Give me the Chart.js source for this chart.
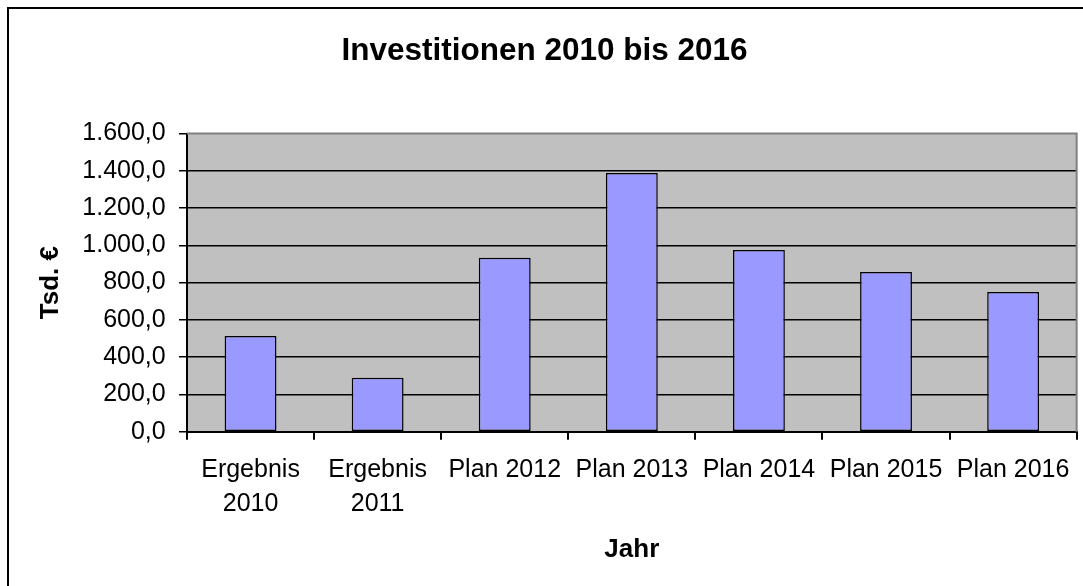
<!DOCTYPE html>
<html>
<head>
<meta charset="utf-8">
<script src="https://cdn.jsdelivr.net/npm/chart.js@4/dist/chart.umd.min.js"></script>
<style>
  html, body { margin: 0; padding: 0; background: #fff; overflow: hidden; }
  #wrap { position: relative; width: 1083px; height: 586px; }
  #frame { position: absolute; left: 7px; top: 7px; width: 2000px; height: 2000px;
           border-left: 2px solid #000; border-top: 2px solid #000; pointer-events: none; }
  canvas { position: absolute; left: 0; top: 0; }
</style>
</head>
<body>
<div id="wrap">
  <canvas id="c" width="1083" height="586"></canvas>
  <div id="frame"></div>
</div>
<script>
const categories = [["Ergebnis", "2010"], ["Ergebnis", "2011"], "Plan 2012", "Plan 2013", "Plan 2014", "Plan 2015", "Plan 2016"];
const investitionen = [514, 290, 934, 1388, 975, 857, 750];
const yMin = 0;
const yMax = 1600;
const yStep = 200;
const chartTitle = "Investitionen 2010 bis 2016";
const xTitle = "Jahr";
const yTitle = "Tsd. €";

function formatDE(v) {
  const s = Math.round(v).toString().replace(/\B(?=(\d{3})+(?!\d))/g, ".");
  return s + ",0";
}

const FONT = "'Liberation Sans', Arial, sans-serif";

const plotBg = {
  id: 'plotBg',
  beforeDraw(chart) {
    const { ctx, chartArea: a } = chart;
    ctx.save();
    ctx.fillStyle = '#C0C0C0';
    ctx.fillRect(a.left, a.top, a.right - a.left, a.bottom - a.top);
    ctx.restore();
  },
  beforeDatasetsDraw(chart) {
    const { ctx, chartArea: a } = chart;
    ctx.save();
    ctx.strokeStyle = '#808080';
    ctx.lineWidth = 2;
    ctx.beginPath();
    ctx.moveTo(a.left, a.top);
    ctx.lineTo(a.right, a.top);
    ctx.lineTo(a.right, a.bottom);
    ctx.stroke();
    ctx.restore();
  }
};

new Chart(document.getElementById('c'), {
  type: 'bar',
  data: {
    labels: categories,
    datasets: [{
      data: investitionen,
      backgroundColor: '#9999FF',
      borderColor: '#000000',
      borderWidth: 1.5,
      borderSkipped: false,
      barPercentage: 0.408,
      categoryPercentage: 1.0
    }]
  },
  options: {
    responsive: false,
    animation: false,
    devicePixelRatio: 1,
    layout: { padding: { left: 10, right: 4, top: 0, bottom: 4.3 } },
    plugins: {
      legend: { display: false },
      tooltip: { enabled: false },
      title: {
        display: true,
        text: chartTitle,
        color: '#000',
        font: { family: FONT, size: 31.5, weight: 'bold', lineHeight: 1.2 },
        padding: { top: 32.5, bottom: 63.2 }
      }
    },
    scales: {
      x: {
        afterFit(scale) { scale.height = 150; },
        grid: {
          offset: true,
          drawOnChartArea: false,
          color: '#000',
          tickColor: '#000',
          tickLength: 8,
          lineWidth: 2
        },
        border: { display: true, color: '#000', width: 2 },
        ticks: {
          color: '#000',
          padding: 13.3,
          maxRotation: 0,
          autoSkip: false,
          font: { family: FONT, size: 25, lineHeight: 1.36 }
        },
        title: {
          display: true,
          text: xTitle,
          color: '#000',
          font: { family: FONT, size: 26, weight: 'bold', lineHeight: 1.2 },
          padding: { top: 0, bottom: 16.1 }
        }
      },
      y: {
        min: yMin,
        max: yMax,
        afterFit(scale) { scale.width = 177; },
        grid: {
          color: (ctx) => (ctx.tick && ctx.tick.value === yMax) ? 'rgba(0,0,0,0)' : '#000',
          tickColor: '#000',
          tickLength: 8,
          lineWidth: 1.5
        },
        border: { display: true, color: '#000', width: 2 },
        ticks: {
          stepSize: yStep,
          color: '#000',
          padding: 13.3,
          font: { family: FONT, size: 25 },
          callback: (v) => formatDE(v)
        },
        title: {
          display: true,
          text: yTitle,
          color: '#000',
          font: { family: FONT, size: 26, weight: 'bold', lineHeight: 1.2 },
          padding: { top: 25.4, bottom: 0 }
        }
      }
    }
  },
  plugins: [plotBg]
});
</script>
</body>
</html>
